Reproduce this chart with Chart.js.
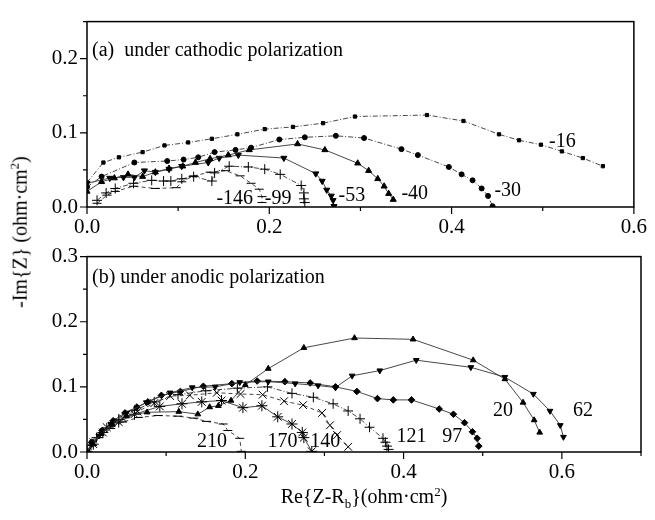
<!DOCTYPE html>
<html>
<head>
<meta charset="utf-8">
<script src="https://cdn.jsdelivr.net/npm/chart.js@4.4.1/dist/chart.umd.min.js"></script>
<style>
  body { margin: 0; background: #fff; }
  #wrap { position: relative; width: 655px; height: 520px; font-family: 'Liberation Serif', serif; color: #000; }
  #cTop { position: absolute; left: 0; top: 0; }
  #cBot { position: absolute; left: 0; top: 235px; }
  .ytitle { position: absolute; left: 19px; top: 232px; transform: translate(-50%, -50%) rotate(-90deg); font-size: 20px; white-space: nowrap; }
  .xtitle { position: absolute; left: 364px; top: 498px; transform: translate(-50%, -50%); font-size: 20px; white-space: nowrap; }
  sub, sup { font-size: 13px; }
</style>
</head>
<body>
<div id="wrap">
  <canvas id="cTop" width="655" height="245"></canvas>
  <canvas id="cBot" width="655" height="285"></canvas>
  <div class="ytitle">-Im{Z} (ohm·cm<sup>2</sup>)</div>
  <div class="xtitle">Re{Z-R<sub>b</sub>}(ohm·cm<sup>2</sup>)</div>
</div>
<script>
// (a) cathodic polarization, [Re, -Im] pairs
const cath16 = [[0,0.033],[0.018,0.060],[0.035,0.067],[0.061,0.074],[0.085,0.083],[0.111,0.087],[0.137,0.092],[0.165,0.098],[0.195,0.105],[0.226,0.108],[0.259,0.113],[0.294,0.122],[0.373,0.124],[0.413,0.116],[0.452,0.098],[0.474,0.090],[0.498,0.084],[0.521,0.075],[0.544,0.066],[0.566,0.055]];
const cath30 = [[0,0.027],[0.016,0.041],[0.052,0.060],[0.088,0.062],[0.106,0.064],[0.122,0.067],[0.140,0.074],[0.163,0.077],[0.180,0.080],[0.211,0.091],[0.239,0.094],[0.273,0.096],[0.304,0.093],[0.345,0.078],[0.363,0.070],[0.397,0.054],[0.411,0.044],[0.423,0.036],[0.433,0.025],[0.440,0.015],[0.445,0.001]];
const cath40 = [[0,0.021],[0.016,0.034],[0.030,0.039],[0.045,0.044],[0.061,0.041],[0.075,0.047],[0.090,0.052],[0.105,0.055],[0.119,0.060],[0.135,0.065],[0.155,0.070],[0.178,0.077],[0.231,0.085],[0.261,0.077],[0.297,0.059],[0.309,0.049],[0.319,0.038],[0.326,0.028],[0.331,0.018],[0.336,0.010]];
const cath53 = [[0,0.032],[0.025,0.039],[0.040,0.040],[0.052,0.040],[0.063,0.049],[0.075,0.047],[0.090,0.051],[0.104,0.055],[0.133,0.060],[0.145,0.066],[0.166,0.070],[0.216,0.066],[0.251,0.045],[0.258,0.035],[0.263,0.023],[0.268,0.015],[0.270,0.009],[0.271,0.001]];
const cath99 = [[0.011,0.009],[0.021,0.019],[0.031,0.025],[0.051,0.032],[0.071,0.036],[0.084,0.035],[0.092,0.035],[0.104,0.038],[0.117,0.041],[0.137,0.035],[0.140,0.046],[0.156,0.055],[0.177,0.054],[0.195,0.051],[0.212,0.044],[0.235,0.029],[0.238,0.019],[0.238,0.011],[0.239,0.006]];
const cath146 = [[0.011,0.005],[0.022,0.016],[0.031,0.021],[0.051,0.028],[0.075,0.025],[0.098,0.026],[0.104,0.034],[0.117,0.042],[0.135,0.047],[0.152,0.049],[0.168,0.042],[0.180,0.032],[0.189,0.024],[0.192,0.014],[0.192,0.006]];

// (b) anodic polarization
const anod20 = [[0,0],[0.007,0.012],[0.018,0.028],[0.032,0.042],[0.050,0.055],[0.076,0.061],[0.116,0.062],[0.140,0.058],[0.155,0.069],[0.166,0.071],[0.182,0.079],[0.200,0.103],[0.229,0.128],[0.274,0.160],[0.338,0.175],[0.412,0.173],[0.488,0.141],[0.528,0.112],[0.551,0.076],[0.565,0.049],[0.572,0.030]];
const anod62 = [[0,0],[0.006,0.012],[0.015,0.025],[0.030,0.043],[0.050,0.060],[0.075,0.076],[0.105,0.091],[0.133,0.099],[0.162,0.100],[0.193,0.107],[0.229,0.108],[0.263,0.105],[0.292,0.102],[0.314,0.099],[0.335,0.117],[0.370,0.125],[0.416,0.141],[0.485,0.130],[0.528,0.115],[0.564,0.089],[0.585,0.063],[0.598,0.041],[0.602,0.023]];
const anod97 = [[0,0],[0.006,0.015],[0.019,0.033],[0.033,0.048],[0.048,0.060],[0.063,0.069],[0.077,0.077],[0.094,0.087],[0.118,0.093],[0.147,0.101],[0.183,0.105],[0.215,0.109],[0.250,0.108],[0.282,0.106],[0.314,0.100],[0.341,0.093],[0.367,0.082],[0.387,0.080],[0.410,0.080],[0.445,0.066],[0.463,0.058],[0.477,0.045],[0.487,0.031],[0.493,0.021],[0.495,0.009]];
const anod121 = [[0,0],[0.005,0.010],[0.012,0.022],[0.025,0.037],[0.040,0.050],[0.060,0.064],[0.085,0.077],[0.115,0.088],[0.150,0.094],[0.190,0.098],[0.228,0.100],[0.259,0.090],[0.286,0.084],[0.311,0.074],[0.330,0.063],[0.345,0.051],[0.357,0.038],[0.374,0.021],[0.377,0.015],[0.379,0.009],[0.381,0.004]];
const anod140 = [[0,0],[0.008,0.015],[0.025,0.038],[0.045,0.052],[0.064,0.062],[0.085,0.075],[0.105,0.086],[0.130,0.087],[0.164,0.091],[0.194,0.089],[0.222,0.088],[0.249,0.078],[0.273,0.072],[0.297,0.060],[0.307,0.041],[0.316,0.026],[0.330,0.008]];
const anod170 = [[0,0],[0.008,0.012],[0.020,0.030],[0.040,0.046],[0.060,0.058],[0.092,0.070],[0.120,0.074],[0.145,0.077],[0.170,0.079],[0.197,0.068],[0.221,0.071],[0.241,0.054],[0.259,0.043],[0.272,0.030],[0.274,0.022],[0.284,0.001]];
const anod210 = [[0,0],[0.006,0.010],[0.015,0.022],[0.030,0.036],[0.045,0.046],[0.065,0.053],[0.090,0.056],[0.115,0.055],[0.135,0.052],[0.151,0.047],[0.172,0.043],[0.178,0.033],[0.193,0.021],[0.195,0.001]];

// curve labels (text, Re, -Im where the text starts)
const cathLabels = [['-16',0.507,0.0875],['-30',0.447,0.0225],['-40',0.345,0.0175],['-53',0.276,0.015],['-99',0.195,0.011],['-146',0.142,0.011]];
const anodLabels = [['20',0.513,0.064],['62',0.614,0.064],['121',0.391,0.024],['97',0.449,0.024],['140',0.282,0.015],['170',0.228,0.015],['210',0.139,0.015]];

const FONT = 'Liberation Serif';
const dashDot = [5, 2, 1, 2];
const dashed = [4, 3];

function series(pts, style, r, dash, rot) {
  return {
    data: pts.map(p => ({ x: p[0], y: p[1] })),
    showLine: true,
    borderColor: '#333',
    borderWidth: 0.9,
    borderDash: dash || [],
    pointStyle: style,
    pointRotation: rot || 0,
    pointRadius: r,
    pointBackgroundColor: '#000',
    pointBorderColor: '#000',
    pointBorderWidth: 1,
    tension: 0
  };
}

// box frame, outward major/minor ticks, panel caption and curve labels
const panelDecor = {
  id: 'panelDecor',
  afterDraw(chart, args, opts) {
    const { ctx, chartArea: a, scales: { x, y } } = chart;
    ctx.save();
    ctx.strokeStyle = '#000';
    ctx.lineWidth = 1.5;
    ctx.strokeRect(a.left, a.top, a.right - a.left, a.bottom - a.top);
    ctx.lineWidth = 1.2;
    ctx.beginPath();
    const nx = Math.round((x.max - x.min) / opts.xMinor);
    for (let i = 0; i <= nx; i++) {
      const px = x.getPixelForValue(x.min + i * opts.xMinor);
      const len = i % 2 === 0 ? 7 : 4;
      ctx.moveTo(px, a.bottom);
      ctx.lineTo(px, a.bottom + len);
    }
    const ny = Math.round((y.max - y.min) / opts.yMinor);
    for (let i = 0; i <= ny; i++) {
      const py = y.getPixelForValue(y.min + i * opts.yMinor);
      const len = i % 2 === 0 ? 7 : 4;
      ctx.moveTo(a.left, py);
      ctx.lineTo(a.left - len, py);
    }
    ctx.stroke();

    ctx.fillStyle = '#000';
    ctx.font = '20px "' + FONT + '"';
    ctx.textBaseline = 'middle';
    ctx.textAlign = 'left';
    ctx.fillText(opts.caption, a.left + 5, a.top + opts.captionDy);
    opts.labels.forEach(l => {
      ctx.fillText(l[0], x.getPixelForValue(l[1]), y.getPixelForValue(l[2]));
    });
    ctx.restore();
  }
};

function makeChart(id, datasets, xMax, yMax, xHeight, padTop, caption, captionDy, labels) {
  return new Chart(document.getElementById(id), {
    type: 'scatter',
    data: { datasets: datasets },
    options: {
      responsive: false,
      animation: false,
      layout: { padding: { left: 0, right: 14, top: padTop, bottom: 0 } },
      plugins: {
        legend: { display: false },
        tooltip: { enabled: false },
        panelDecor: { xMinor: 0.1, yMinor: 0.05, caption: caption, captionDy: captionDy, labels: labels }
      },
      scales: {
        x: {
          type: 'linear', min: 0, max: xMax,
          grid: { display: false, drawTicks: false },
          border: { display: false },
          ticks: { stepSize: 0.2, includeBounds: false, padding: 8, color: '#000', maxRotation: 0,
                   font: { family: FONT, size: 21 }, callback: v => v.toFixed(1) },
          afterFit: s => { s.height = xHeight; }
        },
        y: {
          type: 'linear', min: 0, max: yMax,
          grid: { display: false, drawTicks: false },
          border: { display: false },
          ticks: { stepSize: 0.1, includeBounds: false, padding: 9, color: '#000',
                   font: { family: FONT, size: 21 }, callback: v => v.toFixed(1) },
          afterFit: s => { s.width = 87; }
        }
      }
    },
    plugins: [panelDecor]
  });
}

makeChart('cTop', [
  series(cath16, 'rect', 2.3, dashDot),
  series(cath30, 'circle', 2.5, dashDot),
  series(cath40, 'triangle', 3.5, []),
  series(cath53, 'triangle', 3.5, [], 180),
  series(cath99, 'cross', 5, dashDot),
  series(cath146, 'line', 4.5, dashed)
], 0.6, 0.25, 38, 7, '(a)  under cathodic polarization', 29, cathLabels);

makeChart('cBot', [
  series(anod20, 'triangle', 3.3, []),
  series(anod62, 'triangle', 3.3, [], 180),
  series(anod97, 'rectRot', 3.3, []),
  series(anod121, 'cross', 5, dashDot),
  series(anod140, 'crossRot', 5.5, dashed),
  series(anod170, 'star', 5.5, []),
  series(anod210, 'line', 4.5, dashed)
], 0.7, 0.3, 68, 17, '(b) under anodic polarization', 21, anodLabels);
</script>
</body>
</html>
